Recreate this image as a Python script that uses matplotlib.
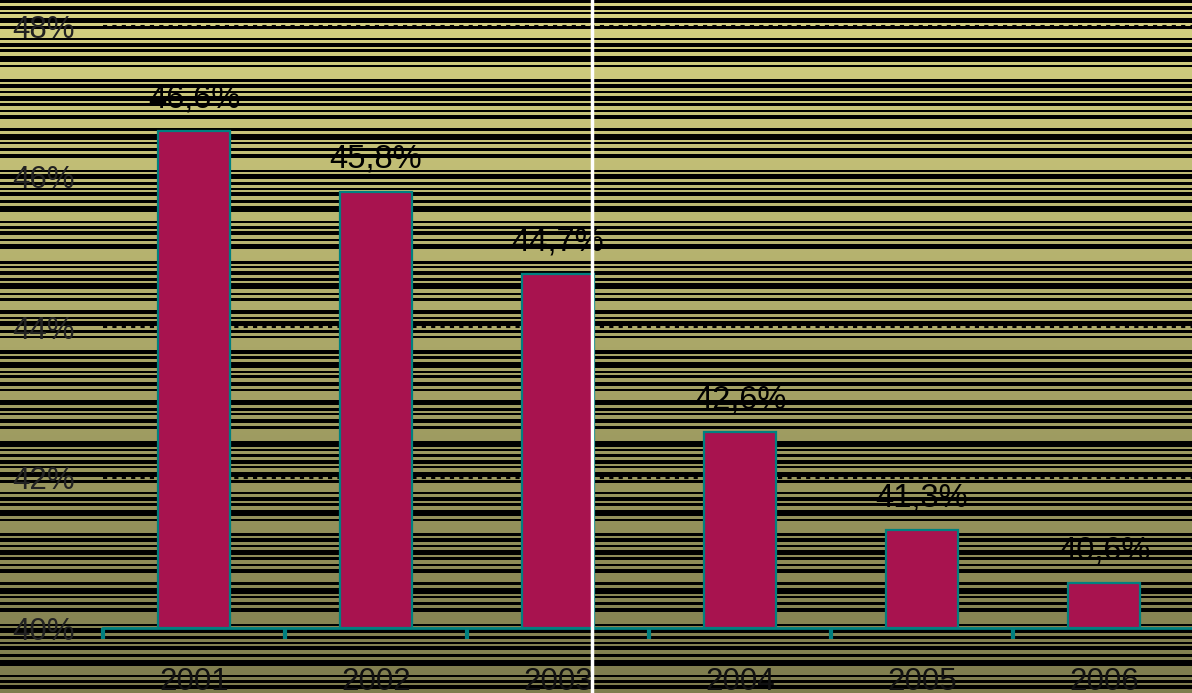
import numpy as np
import matplotlib
matplotlib.use("Agg")
import matplotlib.pyplot as plt
from matplotlib.lines import Line2D

years = ["2001", "2002", "2003", "2004", "2005", "2006"]
values = [46.6, 45.8, 44.7, 42.6, 41.3, 40.6]
value_labels = ["46,6%", "45,8%", "44,7%", "42,6%", "41,3%", "40,6%"]
y_ticks = [40, 42, 44, 46, 48]
y_tick_labels = ["40%", "42%", "44%", "46%", "48%"]

W, H = 1192, 693
fig = plt.figure(figsize=(W / 100, H / 100), dpi=100)

# background: vertical gradient with dense black horizontal stripes
top = np.array([214, 210, 130]) / 255
bot = np.array([126, 124, 78]) / 255
t = np.linspace(0, 1, H)[:, None]
col = top[None, :] * (1 - t) + bot[None, :] * t
img = np.repeat(col[:, None, :], 8, axis=1)
thick = [3, 4, 2, 5, 3, 2, 4, 3, 6, 2]
gaps = [3, 2, 4, 3, 9, 3, 2, 4, 3, 12, 2, 3]
y = 0
i = 0
while y < H:
    th = thick[i % len(thick)]
    img[y:y + th] = 0
    y += th + gaps[i % len(gaps)]
    i += 1
bg = fig.add_axes([0, 0, 1, 1], zorder=0)
bg.imshow(img, aspect="auto", extent=[0, 1, 0, 1], interpolation="nearest")
bg.set_axis_off()

left = 103 / W
right = 1195 / W
bottom = 1 - 628 / H
ax = fig.add_axes([left, bottom, right - left, 1 - bottom], zorder=1)
ax.patch.set_alpha(0)
x = np.arange(len(years))
ax.set_xlim(-0.5, len(years) - 0.5)
ax.set_ylim(40, 48 + 26 / 75.25)

for gy in y_ticks[1:]:
    ax.axhline(gy, color="black", lw=1.5, ls=(0, (2, 2.5)), zorder=1)

ax.bar(x, [v - 40 for v in values], bottom=40, width=0.4, color="#a8134f",
       edgecolor="#008080", linewidth=1.6, zorder=2)
for xi, v, lab in zip(x, values, value_labels):
    ax.annotate(lab, (xi, v), xytext=(0, 12), textcoords="offset points",
                ha="center", va="bottom", fontsize=23.5, color="black",
                family="Liberation Sans")

for s in ["top", "right", "left"]:
    ax.spines[s].set_visible(False)
ax.spines["bottom"].set_color("#008080")
ax.spines["bottom"].set_linewidth(2)

ax.set_xticks(x)
ax.set_xticklabels(years, fontsize=22.5, family="Liberation Sans", color="#111111")
ax.tick_params(axis="x", which="major", length=0, pad=28)
ax.set_xticks(np.arange(-0.5, len(years), 1), minor=True)
ax.tick_params(axis="x", which="minor", length=8, width=3, color="#008080", direction="out")

ax.set_yticks(y_ticks)
ax.set_yticklabels(y_tick_labels, fontsize=22.5, family="Liberation Sans", color="#222222")
ax.tick_params(axis="y", length=0, pad=20)

fig.add_artist(Line2D([592 / W, 592 / W], [0, 1], color="white", lw=2.5, zorder=5))

fig.savefig("out.png", dpi=100)
